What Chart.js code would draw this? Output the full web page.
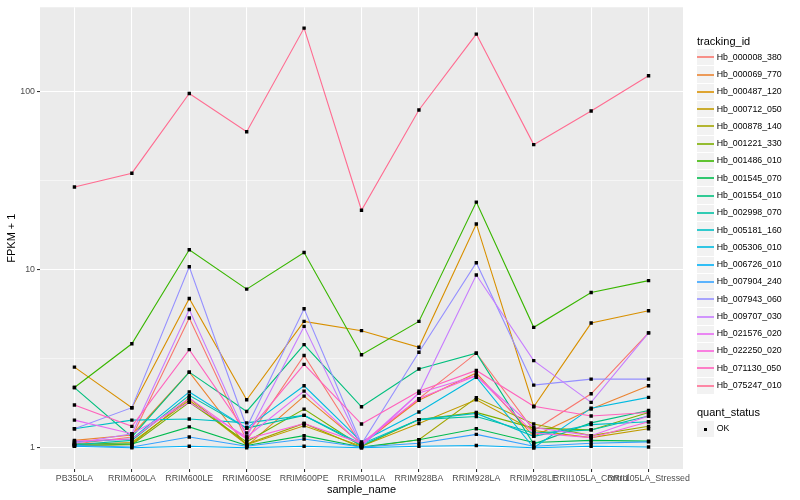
<!DOCTYPE html>
<html>
<head>
  <meta charset="utf-8">
  <title>FPKM + 1 by sample</title>
  <script src="https://cdn.jsdelivr.net/npm/chart.js@4.4.1/dist/chart.umd.min.js"></script>
  <style>
    body { margin: 0; background: #fff; }
    #wrap { position: relative; width: 800px; height: 500px; font-family: "Liberation Sans", Arial, sans-serif; }
    #legend { position: absolute; left: 697px; top: 0; width: 103px; height: 500px; }
    .ttl { position: absolute; left: 0; font-size: 11px; line-height: 13px; white-space: nowrap; color: #000; }
    .key { position: absolute; left: 0; width: 17px; background: #F2F2F2; }
    .line { position: absolute; left: 0; width: 17px; height: 2px; opacity: 0.8; }
    .dot { position: absolute; left: 7px; width: 3px; height: 3px; background: #000; }
    .lab { position: absolute; left: 19.7px; font-size: 8.8px; line-height: 17.28px; white-space: nowrap; color: #000; }
  </style>
</head>
<body>
  <div id="wrap">
    <canvas id="fpkmChart" width="800" height="500"></canvas>
    <div id="legend"></div>
  </div>

  <script>
    // samples on the x axis
    var samples = ["PB350LA", "RRIM600LA", "RRIM600LE", "RRIM600SE", "RRIM600PE", "RRIM901LA",
                   "RRIM928BA", "RRIM928LA", "RRIM928LE", "RRII105LA_Control", "RRII105LA_Stressed"];

    var trackingIds = ["Hb_000008_380", "Hb_000069_770", "Hb_000487_120", "Hb_000712_050", "Hb_000878_140",
                       "Hb_001221_330", "Hb_001486_010", "Hb_001545_070", "Hb_001554_010", "Hb_002998_070",
                       "Hb_005181_160", "Hb_005306_010", "Hb_006726_010", "Hb_007904_240", "Hb_007943_060",
                       "Hb_009707_030", "Hb_021576_020", "Hb_022250_020", "Hb_071130_050", "Hb_075247_010"];

    // FPKM + 1, one value per sample
    var hb000008_380 = [1.05, 1.15, 5.36, 1.10, 3.30, 1.03, 1.89, 3.40, 1.25, 2.01, 4.42];
    var hb000069_770 = [1.10, 1.18, 2.66, 1.02, 1.95, 1.05, 1.85, 2.63, 1.16, 1.65, 2.23];
    var hb000487_120 = [2.84, 1.68, 6.90, 1.86, 5.13, 4.55, 3.67, 18.1, 1.70, 5.02, 5.89];
    var hb000712_050 = [1.04, 1.07, 1.85, 1.04, 1.33, 1.02, 1.37, 1.86, 1.25, 1.14, 1.28];
    var hb000878_140 = [1.02, 1.05, 1.90, 1.05, 1.37, 1.00, 1.11, 1.91, 1.36, 1.17, 1.32];
    var hb001221_330 = [1.03, 1.04, 1.80, 1.08, 1.65, 1.02, 1.44, 1.58, 1.29, 1.26, 1.58];
    var hb001486_010 = [2.18, 3.84, 12.97, 7.79, 12.5, 3.33, 5.13, 24.0, 4.75, 7.45, 8.69];
    var hb001545_070 = [1.05, 1.05, 1.31, 1.03, 1.17, 1.01, 1.11, 1.28, 1.07, 1.10, 1.09];
    var hb001554_010 = [2.18, 1.15, 2.66, 1.60, 3.80, 1.70, 2.77, 3.40, 1.05, 1.38, 1.62];
    var hb002998_070 = [1.04, 1.10, 1.97, 1.29, 1.52, 1.03, 1.44, 1.50, 1.21, 1.26, 1.51];
    var hb005181_160 = [1.28, 1.43, 1.45, 1.38, 1.52, 1.05, 1.44, 1.56, 1.16, 1.35, 1.40];
    var hb005306_010 = [1.08, 1.12, 2.06, 1.29, 2.23, 1.08, 1.59, 2.49, 1.00, 1.67, 1.92];
    var hb006726_010 = [1.02, 1.00, 1.02, 1.00, 1.02, 1.00, 1.02, 1.03, 1.00, 1.02, 1.01];
    var hb007904_240 = [1.03, 1.01, 1.15, 1.02, 1.12, 1.01, 1.06, 1.19, 1.02, 1.06, 1.08];
    var hb007943_060 = [1.28, 1.68, 10.4, 1.30, 6.04, 1.05, 3.44, 10.96, 2.25, 2.43, 2.43];
    var hb009707_030 = [1.06, 1.20, 5.98, 1.15, 4.81, 1.02, 2.03, 9.35, 3.09, 1.80, 4.42];
    var hb021576_020 = [1.43, 1.20, 1.80, 1.15, 2.08, 1.04, 2.03, 2.54, 1.30, 1.17, 1.51];
    var hb022250_020 = [1.09, 1.12, 1.90, 1.12, 1.37, 1.06, 1.89, 2.54, 1.21, 1.14, 1.40];
    var hb071130_050 = [1.74, 1.32, 3.56, 1.21, 2.94, 1.36, 2.08, 2.72, 1.71, 1.51, 1.58];
    var hb075247_010 = [29.2, 34.9, 97.8, 59.7, 228, 21.6, 79.0, 211, 50.5, 78.0, 123];

    var seriesValues = [hb000008_380, hb000069_770, hb000487_120, hb000712_050, hb000878_140,
                        hb001221_330, hb001486_010, hb001545_070, hb001554_010, hb002998_070,
                        hb005181_160, hb005306_010, hb006726_010, hb007904_240, hb007943_060,
                        hb009707_030, hb021576_020, hb022250_020, hb071130_050, hb075247_010];

    // y axis breaks (log10)
    var yMajorTicks = [1, 10, 100];
    var yMinorTicks = [3.1623, 31.623];

    // ggplot default hue palette for 20 groups
    var colors = ["#F8766D", "#EA8331", "#D89000", "#C09B00", "#A3A500", "#7CAE00", "#39B600", "#00BB4E",
                  "#00BF7D", "#00C1A3", "#00BFC4", "#00BAE0", "#00B0F6", "#35A2FF", "#9590FF", "#C77CFF",
                  "#E76BF3", "#FA62DB", "#FF62BC", "#FF6C91"];

    var FONT = "'Liberation Sans', Arial, sans-serif";

    var datasets = seriesValues.map(function(vals, i) {
      return {
        label: trackingIds[i],
        data: vals.map(function(v, j) { return { x: j, y: v }; }),
        borderColor: colors[i],
        borderWidth: 1.1,
        pointRadius: 0,
        fill: false,
        tension: 0,
        order: seriesValues.length - i
      };
    });

    // every sample point, drawn on top of the lines
    var allPoints = [];
    seriesValues.forEach(function(vals) {
      vals.forEach(function(v, j) { allPoints.push({ x: j, y: v }); });
    });
    datasets.push({
      label: "OK",
      data: allPoints,
      showLine: false,
      pointStyle: "rect",
      pointRadius: 2.4,
      pointBorderWidth: 0,
      pointBackgroundColor: "#000",
      pointBorderColor: "#000",
      order: -1
    });

    var panelBg = {
      id: "panelBg",
      beforeDraw: function(chart) {
        var a = chart.chartArea, ctx = chart.ctx;
        ctx.save();
        ctx.fillStyle = "#fff";
        ctx.fillRect(0, 0, chart.width, chart.height);
        ctx.fillStyle = "#EBEBEB";
        ctx.fillRect(a.left, a.top, a.right - a.left, a.bottom - a.top);
        ctx.restore();
      }
    };

    function isMajor(v) { return yMajorTicks.indexOf(v) >= 0; }

    new Chart(document.getElementById("fpkmChart"), {
      type: "line",
      data: { datasets: datasets },
      plugins: [panelBg],
      options: {
        responsive: false,
        animation: false,
        layout: { padding: { left: 0, right: 117, top: 5, bottom: 0 } },
        plugins: { legend: { display: false }, tooltip: { enabled: false } },
        scales: {
          x: {
            type: "linear",
            min: -0.6,
            max: 10.6,
            afterBuildTicks: function(axis) {
              axis.ticks = samples.map(function(s, i) { return { value: i }; });
            },
            afterFit: function(axis) { axis.height = 31; },
            ticks: {
              callback: function(v) { return samples[v] || ""; },
              autoSkip: false,
              maxRotation: 0,
              minRotation: 0,
              padding: 1,
              color: "#4D4D4D",
              font: { family: FONT, size: 8.8 }
            },
            grid: { color: "#fff", lineWidth: 1.07, tickLength: 3, tickColor: "#333" },
            border: { display: false },
            title: {
              display: true,
              text: "sample_name",
              color: "#000",
              font: { family: FONT, size: 11 },
              padding: { top: 0, bottom: 3.4 }
            }
          },
          y: {
            type: "logarithmic",
            min: 0.76,
            max: 298.5,
            afterBuildTicks: function(axis) {
              axis.ticks = yMajorTicks.concat(yMinorTicks).sort(function(a, b) { return a - b; })
                .map(function(v) { return { value: v }; });
            },
            afterFit: function(axis) { axis.width = 40; },
            ticks: {
              callback: function(v) { return isMajor(v) ? String(v) : ""; },
              padding: 2,
              color: "#4D4D4D",
              font: { family: FONT, size: 8.8 }
            },
            grid: {
              color: "#fff",
              lineWidth: function(c) { return isMajor(c.tick.value) ? 1.07 : 0.53; },
              tickLength: 3,
              tickColor: function(c) { return isMajor(c.tick.value) ? "#333" : "rgba(0,0,0,0)"; }
            },
            border: { display: false },
            title: {
              display: true,
              text: "FPKM + 1",
              color: "#000",
              font: { family: FONT, size: 11 },
              padding: { top: 5.4, bottom: 0 }
            }
          }
        }
      }
    });

    // legend in the ggplot layout
    var legend = document.getElementById("legend");
    function el(cls, top, height) {
      var d = document.createElement("div");
      d.className = cls;
      d.style.top = top + "px";
      if (height) d.style.height = height + "px";
      legend.appendChild(d);
      return d;
    }
    function addItem(text, top, color) {
      var y0 = Math.round(top + 0.5), y1 = Math.round(top + 17.28 - 0.5);
      el("key", y0, y1 - y0);
      var mid = Math.round(top + 8.64);
      if (color) {
        el("line", mid - 1).style.background = color;
      } else {
        el("dot", mid - 1.5);
      }
      el("lab", top).textContent = text;
    }
    el("ttl", 34.5).textContent = "tracking_id";
    trackingIds.forEach(function(id, i) { addItem(id, 48.7 + i * 17.28, colors[i]); });
    el("ttl", 405.5).textContent = "quant_status";
    addItem("OK", 420.3, null);
  </script>
</body>
</html>
